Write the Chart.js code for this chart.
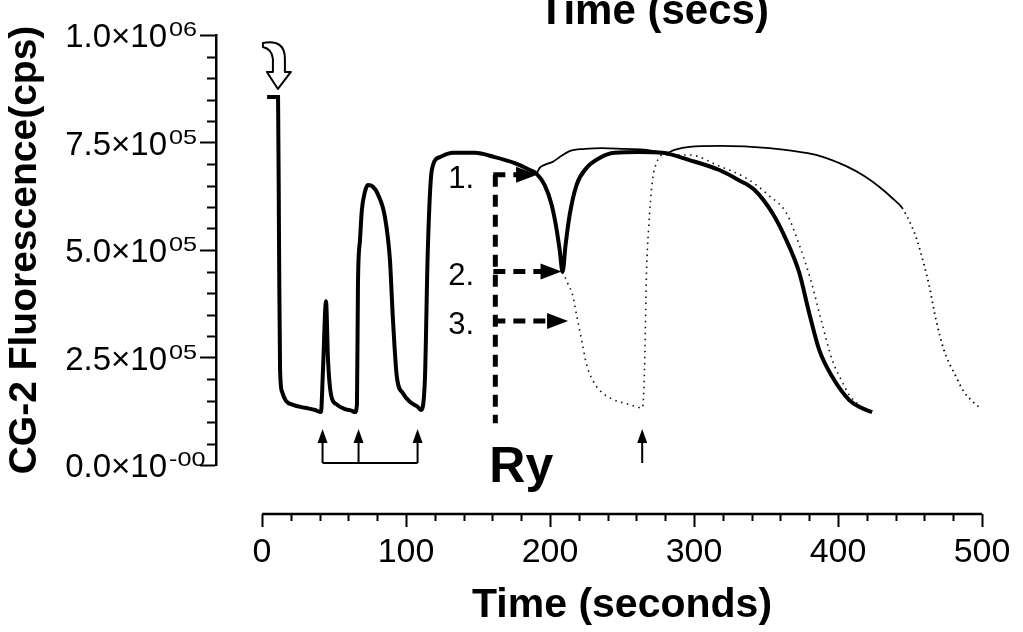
<!DOCTYPE html>
<html>
<head>
<meta charset="utf-8">
<script src="https://cdn.jsdelivr.net/npm/chart.js@4/dist/chart.umd.min.js"></script>
<style>
  html, body { margin: 0; padding: 0; background: #fff; }
  canvas { display: block; }
</style>
</head>
<body>
<canvas id="chart" width="1023" height="632"></canvas>
<script>
// trace 2 (thick): the one that dips to ~4.5e5 after Ry
const mainTime = [3.5, 11.1, 11.8, 12.5, 13.9, 16.6, 21.5, 29.8, 36.8, 40.9,
    42.3, 44.4, 45.8, 47.9, 51.3, 57.6, 62.4, 64.5, 65.9, 66.6,
    68.0, 69.3, 71.4, 73.5, 77.0, 80.4, 85.3, 88.8, 90.8, 93.6,
    97.8, 102.6, 108.2, 110.3, 113.0, 115.1, 117.9, 123.4, 132.5, 147.7,
    161.6, 175.5, 185.9, 190.7, 196.3, 201.1, 204.6, 206.7, 208.7, 210.8,
    213.6, 218.4, 225.4, 234.4, 244.8, 262.1, 278.1, 296.8, 317.6, 330.8,
    341.9, 354.4, 364.1, 373.1, 380.0, 387.0, 396.0, 407.8, 416.1, 423.7];
const mainCps = [8.56e5, 8.56e5, 5.0e5, 2.21e5, 1.70e5, 1.49e5, 1.40e5, 1.33e5, 1.28e5, 1.23e5,
    2.21e5, 3.81e5, 2.44e5, 1.63e5, 1.42e5, 1.30e5, 1.26e5, 1.23e5, 1.40e5, 4.23e5,
    5.23e5, 5.93e5, 6.35e5, 6.51e5, 6.47e5, 6.30e5, 5.77e5, 4.77e5, 3.44e5, 2.05e5,
    1.67e5, 1.47e5, 1.35e5, 1.28e5, 1.91e5, 5.00e5, 6.86e5, 7.16e5, 7.26e5, 7.26e5,
    7.16e5, 7.02e5, 6.86e5, 6.77e5, 6.51e5, 6.05e5, 5.47e5, 5.00e5, 4.49e5, 5.12e5,
    5.81e5, 6.51e5, 6.91e5, 7.14e5, 7.26e5, 7.28e5, 7.26e5, 7.09e5, 6.86e5, 6.63e5,
    6.40e5, 5.86e5, 5.23e5, 4.47e5, 3.53e5, 2.67e5, 2.05e5, 1.51e5, 1.33e5, 1.23e5];

// trace 1 (thin): no dip after Ry
const time1 = [190.7, 192.8, 196.3, 201.8, 208.0, 213.6, 224.0, 236.5, 251.7, 267.0,
    276.0, 280.9, 286.4, 296.8, 317.6, 352.3, 373.1, 387.0, 405.7, 418.2,
    428.6, 437.6, 444.5, 450.8, 454.9, 459.8, 463.2, 468.1, 473.6, 482.0,
    487.5, 492.4, 497.9];
const cps1 = [6.77e5, 6.91e5, 6.98e5, 7.05e5, 7.19e5, 7.30e5, 7.35e5, 7.37e5, 7.35e5, 7.33e5,
    7.28e5, 7.26e5, 7.33e5, 7.40e5, 7.42e5, 7.37e5, 7.28e5, 7.19e5, 6.95e5, 6.72e5,
    6.47e5, 6.21e5, 5.98e5, 5.58e5, 5.23e5, 4.65e5, 4.19e5, 3.37e5, 2.67e5, 2.05e5,
    1.70e5, 1.51e5, 1.35e5];

// trace 3 (dotted): deep dip, then recovery after the second stimulus
const time3 = [208.7, 212.2, 215.7, 218.4, 221.9, 225.4, 229.5, 234.4, 243.4, 253.8,
    264.2, 265.6, 267.0, 268.4, 271.2, 273.9, 278.1, 296.8, 317.6, 336.3,
    352.3, 364.1, 373.1, 381.4, 388.3, 396.0, 402.2, 407.8, 413.3];
const cps3 = [4.49e5, 4.23e5, 3.95e5, 3.49e5, 2.91e5, 2.33e5, 1.98e5, 1.74e5, 1.53e5, 1.42e5,
    1.33e5, 2.21e5, 4.49e5, 5.47e5, 6.63e5, 7.02e5, 7.21e5, 7.21e5, 6.95e5, 6.67e5,
    6.26e5, 5.86e5, 5.12e5, 4.26e5, 3.37e5, 2.44e5, 1.98e5, 1.63e5, 1.44e5];

// axes
const xTickValues = [0, 100, 200, 300, 400, 500];
const xMinorStep = 20;
const yTickValues = [0, 2.5e5, 5.0e5, 7.5e5, 1.0e6];
const yTickMantissa = ['0.0', '2.5', '5.0', '7.5', '1.0'];
const yTickExponent = ['-00', '05', '05', '05', '06'];
const yMinorStep = 5e4;

// annotations
const addTime = 11;
const addCps = 8.56e5;
const stimulusTimes = [42, 67, 108, 264];
const ryTime = 162;
const arrowLabels = ['1.', '2.', '3.'];
const arrowTipTime = [191, 208, 212.5];
const arrowTipCps = [6.75e5, 4.5e5, 3.35e5];

const FONT = '"Liberation Sans", Arial, Helvetica, sans-serif';

function toPoints(ts, vs) {
    return ts.map((t, i) => ({ x: t, y: vs[i] }));
}

function arrowHead(ctx, x, y, dir, len, half) {
    // dir: 'right' or 'up'
    ctx.beginPath();
    if (dir === 'right') {
        ctx.moveTo(x, y);
        ctx.lineTo(x - len, y - half);
        ctx.lineTo(x - len, y + half);
    } else {
        ctx.moveTo(x, y);
        ctx.lineTo(x - half, y + len);
        ctx.lineTo(x + half, y + len);
    }
    ctx.closePath();
    ctx.fill();
}

const overlay = {
    id: 'overlay',
    afterDraw(chart) {
        const { ctx } = chart;
        const xs = chart.scales.x;
        const ys = chart.scales.y;
        const px = v => xs.getPixelForValue(v);
        const py = v => ys.getPixelForValue(v);
        ctx.save();
        ctx.fillStyle = '#000';
        ctx.strokeStyle = '#000';

        // y minor ticks
        ctx.lineWidth = 2;
        ctx.beginPath();
        for (let v = 0; v <= 1e6; v += yMinorStep) {
            if (yTickValues.some(t => Math.abs(t - v) < 1)) continue;
            const yy = Math.round(py(v)) + 0.5;
            ctx.moveTo(ys.right - 9, yy);
            ctx.lineTo(ys.right, yy);
        }
        ctx.stroke();

        // y tick labels with exponent
        yTickValues.forEach((v, i) => {
            const yy = py(v);
            ctx.font = '33px ' + FONT;
            ctx.textAlign = 'right';
            ctx.textBaseline = 'alphabetic';
            ctx.fillText(yTickMantissa[i] + '×10', ys.right - 49, yy + 12);
            ctx.save();
            ctx.translate(ys.right - 47, yy + 1);
            ctx.scale(1.2, 1);
            ctx.font = '21px ' + FONT;
            ctx.textAlign = 'left';
            ctx.fillText(yTickExponent[i], 0, 0);
            ctx.restore();
        });

        // x axis (separate, below the plot)
        const axY = py(0) + 49;
        ctx.lineWidth = 2.5;
        ctx.beginPath();
        ctx.moveTo(px(0), axY);
        ctx.lineTo(px(500), axY);
        ctx.stroke();
        ctx.lineWidth = 2;
        ctx.beginPath();
        for (let t = 0; t <= 500; t += xMinorStep) {
            const major = xTickValues.includes(t);
            const xx = Math.round(px(t)) + 0.5;
            ctx.moveTo(xx, axY);
            ctx.lineTo(xx, axY + (major ? 13 : 7));
        }
        ctx.stroke();
        ctx.font = '34px ' + FONT;
        ctx.textAlign = 'center';
        ctx.textBaseline = 'alphabetic';
        xTickValues.forEach(t => ctx.fillText(String(t), px(t), axY + 48));

        ctx.font = 'bold 41px ' + FONT;
        ctx.fillText('Time (seconds)', (px(0) + px(500)) / 2, axY + 103);

        // cut-off top title
        ctx.font = 'bold 42px ' + FONT;
        ctx.fillText('Time (secs)', px(272), 24);

        // hollow curved arrow at the first addition
        const ax = px(addTime), ay = py(addCps) - 8;
        ctx.save();
        ctx.translate(ax, ay);
        ctx.beginPath();
        ctx.moveTo(-15, -46);
        ctx.quadraticCurveTo(7, -50, 7, -30);
        ctx.lineTo(7, -17);
        ctx.lineTo(13, -17);
        ctx.lineTo(0, 0);
        ctx.lineTo(-11, -17);
        ctx.lineTo(-5, -17);
        ctx.lineTo(-5, -30);
        ctx.quadraticCurveTo(-6, -40, -15, -42);
        ctx.closePath();
        ctx.fillStyle = '#fff';
        ctx.fill();
        ctx.lineWidth = 2;
        ctx.lineJoin = 'round';
        ctx.stroke();
        ctx.restore();

        // Ry dashed line with labelled arrows
        const rx = px(ryTime);
        const topY = py(arrowTipCps[0]);
        ctx.lineWidth = 5;
        ctx.setLineDash([12, 8]);
        ctx.beginPath();
        ctx.moveTo(rx, topY);
        ctx.lineTo(rx, py(0.97e5));
        ctx.stroke();
        arrowLabels.forEach((lab, i) => {
            const tx = px(arrowTipTime[i]);
            const ty = py(arrowTipCps[i]);
            ctx.setLineDash([12, 8]);
            ctx.lineWidth = 5;
            ctx.beginPath();
            ctx.moveTo(rx - 2, ty);
            ctx.lineTo(tx - 18, ty);
            ctx.stroke();
            ctx.setLineDash([]);
            arrowHead(ctx, tx, ty, 'right', 21, 8);
            ctx.font = '31px ' + FONT;
            ctx.textAlign = 'left';
            ctx.fillText(lab, rx - 47, ty + 13);
        });
        ctx.setLineDash([]);
        ctx.font = 'bold 50px ' + FONT;
        ctx.textAlign = 'left';
        ctx.fillText('Ry', rx - 6, py(0) + 17);

        // stimulus arrows along the bottom
        const tipY = py(0) - 36;
        const baseY = py(0) - 2;
        ctx.lineWidth = 2;
        stimulusTimes.forEach(t => {
            const xx = px(t);
            ctx.beginPath();
            ctx.moveTo(xx, tipY + 10);
            ctx.lineTo(xx, baseY);
            ctx.stroke();
            arrowHead(ctx, xx, tipY, 'up', 14, 5);
        });
        ctx.beginPath();
        ctx.moveTo(px(stimulusTimes[0]), baseY);
        ctx.lineTo(px(stimulusTimes[2]), baseY);
        ctx.stroke();

        ctx.restore();
    }
};

new Chart(document.getElementById('chart'), {
    type: 'line',
    data: {
        datasets: [
            {
                label: 'trace 2',
                data: toPoints(mainTime, mainCps),
                borderColor: '#000',
                borderWidth: 4,
                pointRadius: 0,
                cubicInterpolationMode: 'monotone'
            },
            {
                label: 'trace 1',
                data: toPoints(time1, cps1),
                borderColor: '#000',
                borderWidth: 1.8,
                pointRadius: 0,
                cubicInterpolationMode: 'monotone',
                segment: {
                    borderDash: c => (c.p0.parsed.x >= 444 ? [1.5, 4] : undefined)
                }
            },
            {
                label: 'trace 3',
                data: toPoints(time3, cps3),
                borderColor: '#111',
                borderWidth: 1.6,
                borderDash: [1.5, 4.5],
                pointRadius: 0,
                cubicInterpolationMode: 'monotone'
            }
        ]
    },
    options: {
        responsive: false,
        animation: false,
        events: [],
        layout: { padding: { top: 35, right: 41, left: 0, bottom: 0 } },
        plugins: {
            legend: { display: false },
            tooltip: { enabled: false }
        },
        scales: {
            x: {
                type: 'linear',
                min: -32,
                max: 500,
                grid: { display: false },
                border: { display: false },
                ticks: { display: false },
                afterFit: s => { s.height = 167; }
            },
            y: {
                type: 'linear',
                min: 0,
                max: 1e6,
                ticks: { display: false, stepSize: 2.5e5 },
                grid: {
                    drawOnChartArea: false,
                    drawTicks: true,
                    tickLength: 16,
                    tickWidth: 2,
                    tickColor: '#000'
                },
                border: { display: true, color: '#000', width: 2.5 },
                title: {
                    display: true,
                    text: 'CG-2 Fluorescence(cps)',
                    color: '#000',
                    font: { family: FONT, size: 39, weight: 'bold' },
                    padding: { top: 2, bottom: 0 }
                },
                afterFit: s => { s.width = 216; }
            }
        }
    },
    plugins: [overlay]
});
</script>
</body>
</html>
